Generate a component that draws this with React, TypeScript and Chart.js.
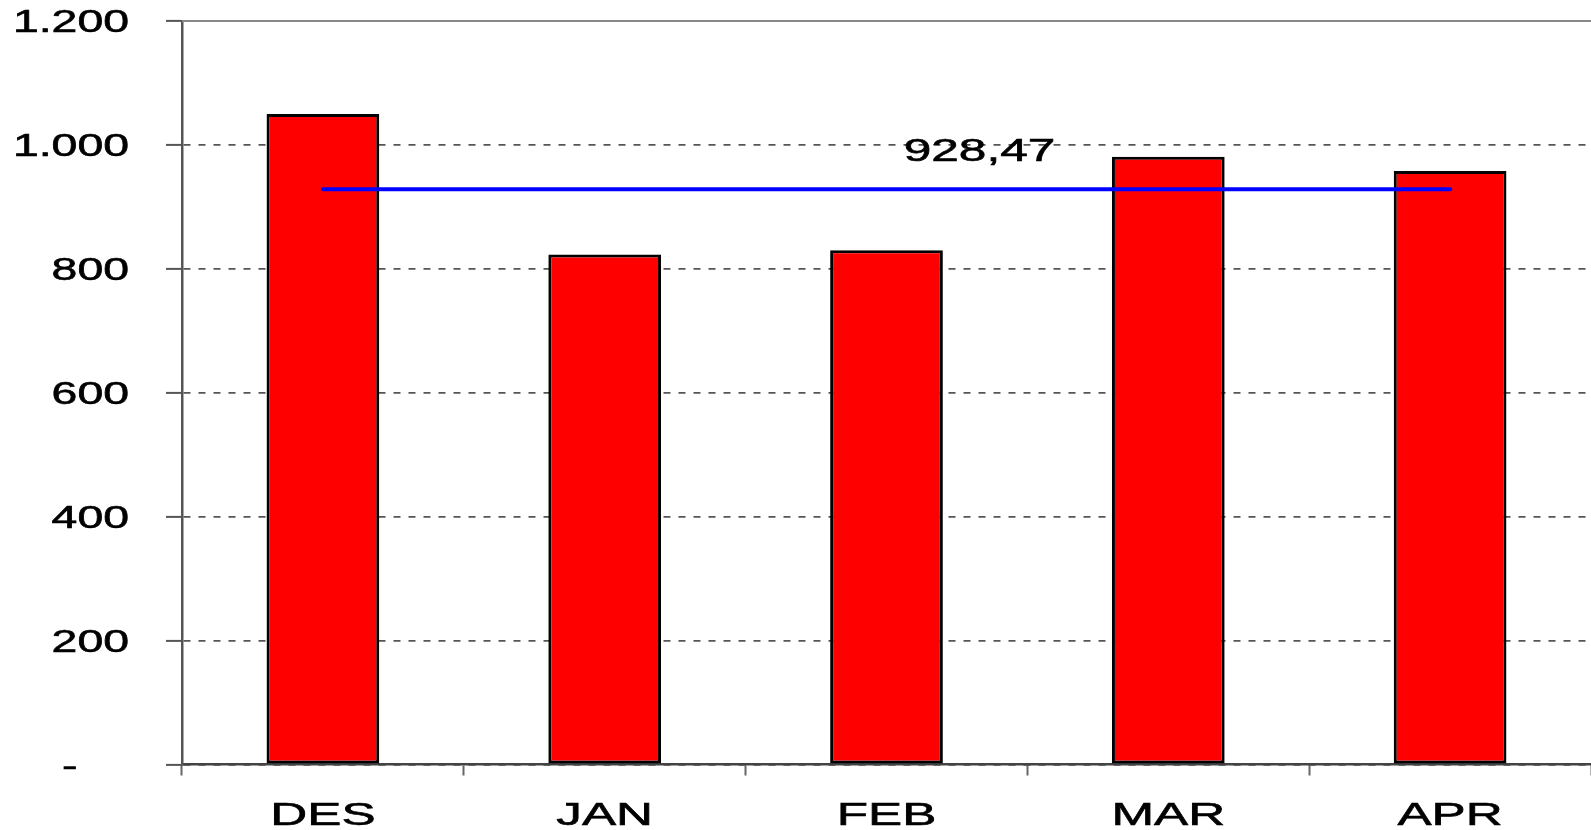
import React, { useEffect, useRef } from "react";
import { Chart, registerables } from "chart.js";

Chart.register(...registerables);

// ---- data ----
const categories = ["DES", "JAN", "FEB", "MAR", "APR"];
const values = [1050, 823, 830, 981, 958];
const averageLine = [928.47, 928.47, 928.47, 928.47, 928.47];
const averageLabel = "928,47";
const yTickValues = [0, 200, 400, 600, 800, 1000, 1200];

// ---- style / layout constants ----
const FONT_SIZE = 32;
const FONT = `${FONT_SIZE}px "Liberation Sans", Arial, sans-serif`;
const STRETCH_Y = 1.45;
const STRETCH_X = 1.6;
const STRETCH_LABEL = 1.55;
const CAP = 0.716 * FONT_SIZE;
const LABEL_INDEX = 2.33;
const LABEL_VALUE = 992;

function fmt(v: number): string {
  if (v === 0) return "-    ";
  return String(v).replace(/\B(?=(\d{3})+(?!\d))/g, ".");
}

function drawText(
  ctx: CanvasRenderingContext2D,
  text: string,
  x: number,
  baseline: number,
  align: "left" | "center" | "right",
  stretch: number
) {
  ctx.save();
  ctx.font = FONT;
  ctx.textBaseline = "alphabetic";
  ctx.textAlign = "left";
  const w = ctx.measureText(text).width * stretch;
  const left = align === "right" ? x - w : align === "center" ? x - w / 2 : x;
  ctx.translate(left, baseline);
  ctx.scale(stretch, 1);
  ctx.fillStyle = "#000";
  ctx.strokeStyle = "#000";
  ctx.lineWidth = 0.6;
  ctx.fillText(text, 0, 0);
  ctx.strokeText(text, 0, 0);
  ctx.restore();
}

const textPlugin = {
  id: "stretchedText",
  afterDraw(chart: any) {
    const ctx: CanvasRenderingContext2D = chart.ctx;
    const { chartArea, scales } = chart;
    const xs = scales.x;
    const ys = scales.y;
    // top frame line
    ctx.save();
    ctx.strokeStyle = "#888";
    ctx.lineWidth = 2;
    ctx.beginPath();
    ctx.moveTo(chartArea.left, chartArea.top);
    ctx.lineTo(chartArea.right, chartArea.top);
    ctx.stroke();
    ctx.restore();
    // y tick labels
    yTickValues.forEach((v) => {
      const y = ys.getPixelForValue(v);
      drawText(ctx, fmt(v), 129, y + CAP / 2, "right", STRETCH_Y);
    });
    // x tick labels
    categories.forEach((c, i) => {
      const x = xs.getPixelForValue(i);
      drawText(ctx, c, x, chartArea.bottom + 60.5, "center", STRETCH_X);
    });
    // average label
    const lx = xs.getPixelForValue(LABEL_INDEX);
    const ly = ys.getPixelForValue(LABEL_VALUE);
    drawText(ctx, averageLabel, lx, ly + CAP / 2, "center", STRETCH_LABEL);
  },
};

export default function App() {
  const ref = useRef<HTMLCanvasElement | null>(null);
  useEffect(() => {
    document.body.style.margin = "0";
    const canvas = ref.current;
    if (!canvas) return;
    const chart = new Chart(canvas, {
      type: "bar",
      data: {
        labels: categories,
        datasets: [
          {
            type: "line",
            label: "Rata-rata",
            data: averageLine,
            borderColor: "#0000ff",
            borderWidth: 4,
            pointRadius: 0,
            borderCapStyle: "round",
            fill: false,
            order: 0,
          } as any,
          {
            type: "bar",
            label: "Nilai",
            data: values,
            backgroundColor: "#ff0000",
            borderColor: "#000000",
            borderWidth: 3,
            borderSkipped: false,
            categoryPercentage: 1,
            barPercentage: 0.4,
            order: 1,
          } as any,
        ],
      },
      options: {
        animation: false,
        responsive: true,
        maintainAspectRatio: false,
        devicePixelRatio: 1,
        layout: { padding: { top: 21, right: 0, left: 0, bottom: 0 } },
        plugins: { legend: { display: false }, tooltip: { enabled: false } },
        scales: {
          x: {
            offset: true,
            grid: {
              offset: true,
              drawOnChartArea: false,
              drawTicks: true,
              tickLength: 11,
              tickColor: "#666",
              tickWidth: 2,
            },
            border: { display: true, color: "#444", width: 2.5 },
            ticks: { display: false },
            afterFit: (s: any) => {
              s.height = 65.5;
            },
          },
          y: {
            min: 0,
            max: 1200,
            ticks: { display: false, stepSize: 200 },
            grid: {
              color: "#555",
              lineWidth: 1.8,
              drawTicks: true,
              tickLength: 16,
              tickColor: "#555",
              tickWidth: 2,
            },
            border: { display: true, color: "#555", width: 2.5, dash: [7, 8] },
            afterFit: (s: any) => {
              s.width = 182;
            },
          },
        },
      } as any,
      plugins: [textPlugin],
    });
    return () => chart.destroy();
  }, []);
  return (
    <div style={{ position: "relative", width: "1591px", height: "830px" }}>
      <canvas ref={ref} />
    </div>
  );
}
